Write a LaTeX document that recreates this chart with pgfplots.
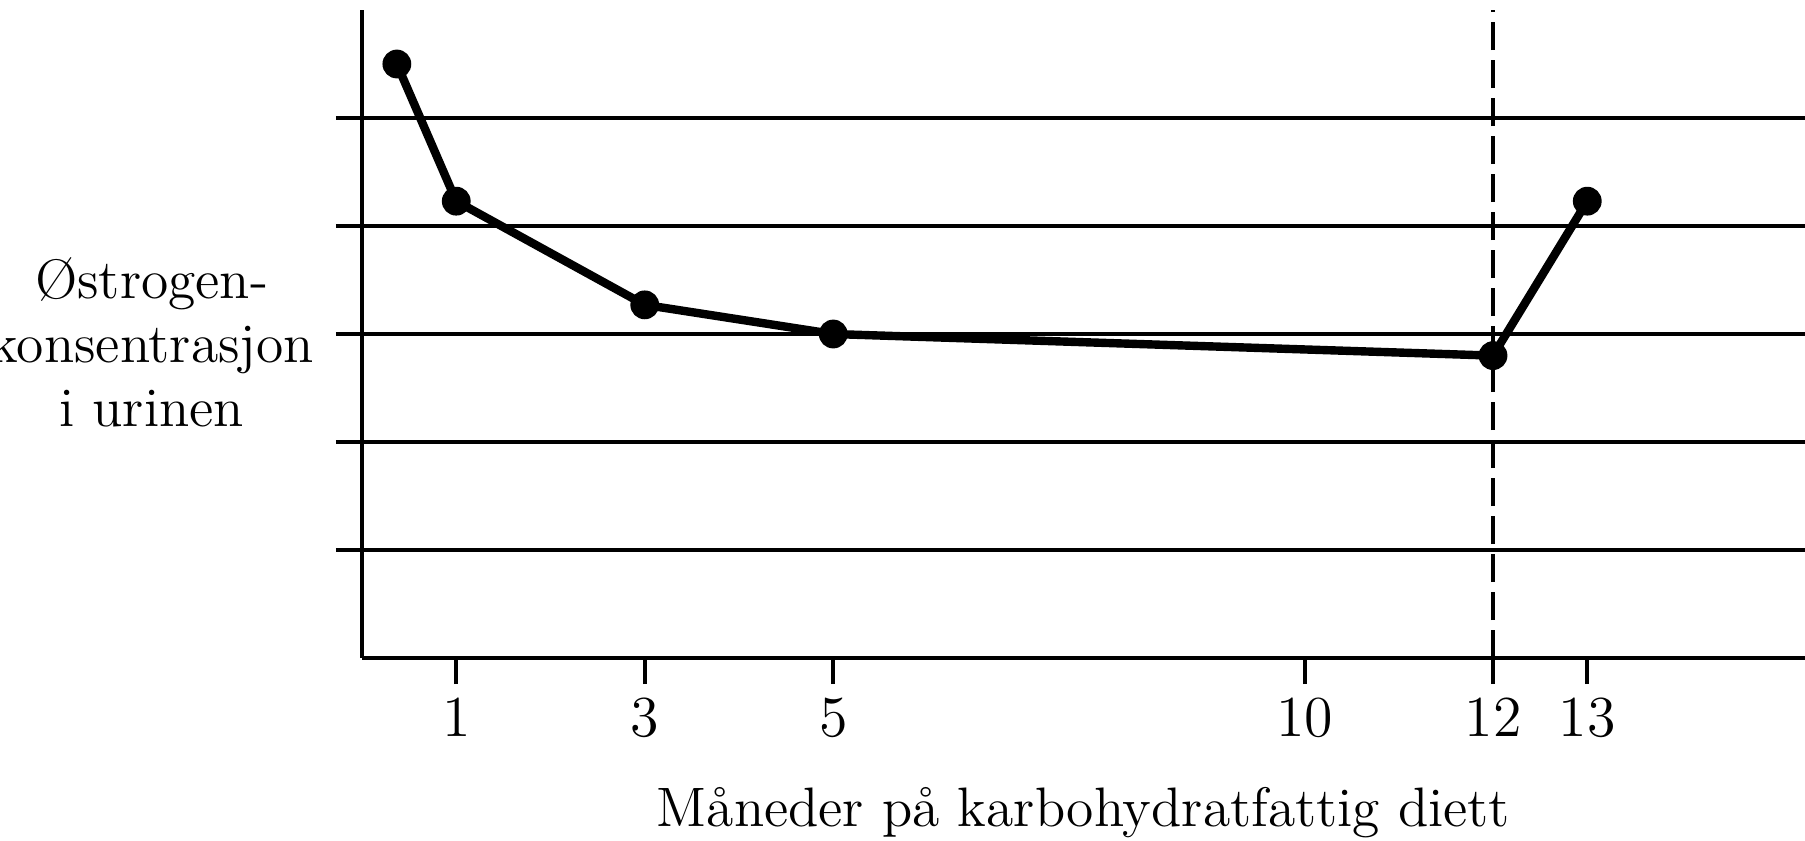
\documentclass[border=0pt]{standalone}
\usepackage{fontspec}
\usepackage{pgfplots}
\pgfplotsset{compat=1.18}
\begin{document}
\begin{tikzpicture}
\begin{axis}[
  x=23.5625pt, y=27pt,
  xmin=0, xmax=15.31, ymin=0, ymax=6,
  axis lines*=left,
  axis line style={line width=1pt, black},
  xtick={1,3,5,10,12,13},
  ytick={1,2,3,4,5},
  yticklabels={},
  ymajorgrids,
  grid style={line width=1pt, black},
  tick align=outside,
  major tick length=6.5pt,
  tick style={line width=1pt, black},
  /pgf/number format/assume math mode=true,
  tick label style={font=\fontsize{14.5}{16}\selectfont},
  xlabel={Måneder på karbohydratfattig diett},
  ylabel={Østrogen-\\konsentrasjon\\i urinen},
  label style={font=\fontsize{13.9}{16}\selectfont},
  xlabel style={at={(axis description cs:0.5,-0.26)}, anchor=base},
  ylabel style={at={(axis description cs:-0.1457,0.488)}, rotate=-90, anchor=center, align=center},
  clip=false,
]
\addplot[line width=0.8pt, dash pattern=on 7pt off 2.5pt] coordinates {(12,0) (12,6)};
\addplot[line width=2.1pt, line join=round, mark=*, mark size=3.4pt, mark options={line width=0.4pt, fill=black}] coordinates {(0.37,5.50) (1,4.23) (3,3.27) (5,3.0) (12,2.80) (13,4.23)};
\coordinate (O) at (axis cs:0,0);
\end{axis}
\pgfresetboundingbox
\path ([shift={(-90.5pt,-45.5pt)}]O) rectangle ([shift={(360.75pt,164.5pt)}]O);
\end{tikzpicture}
\end{document}
